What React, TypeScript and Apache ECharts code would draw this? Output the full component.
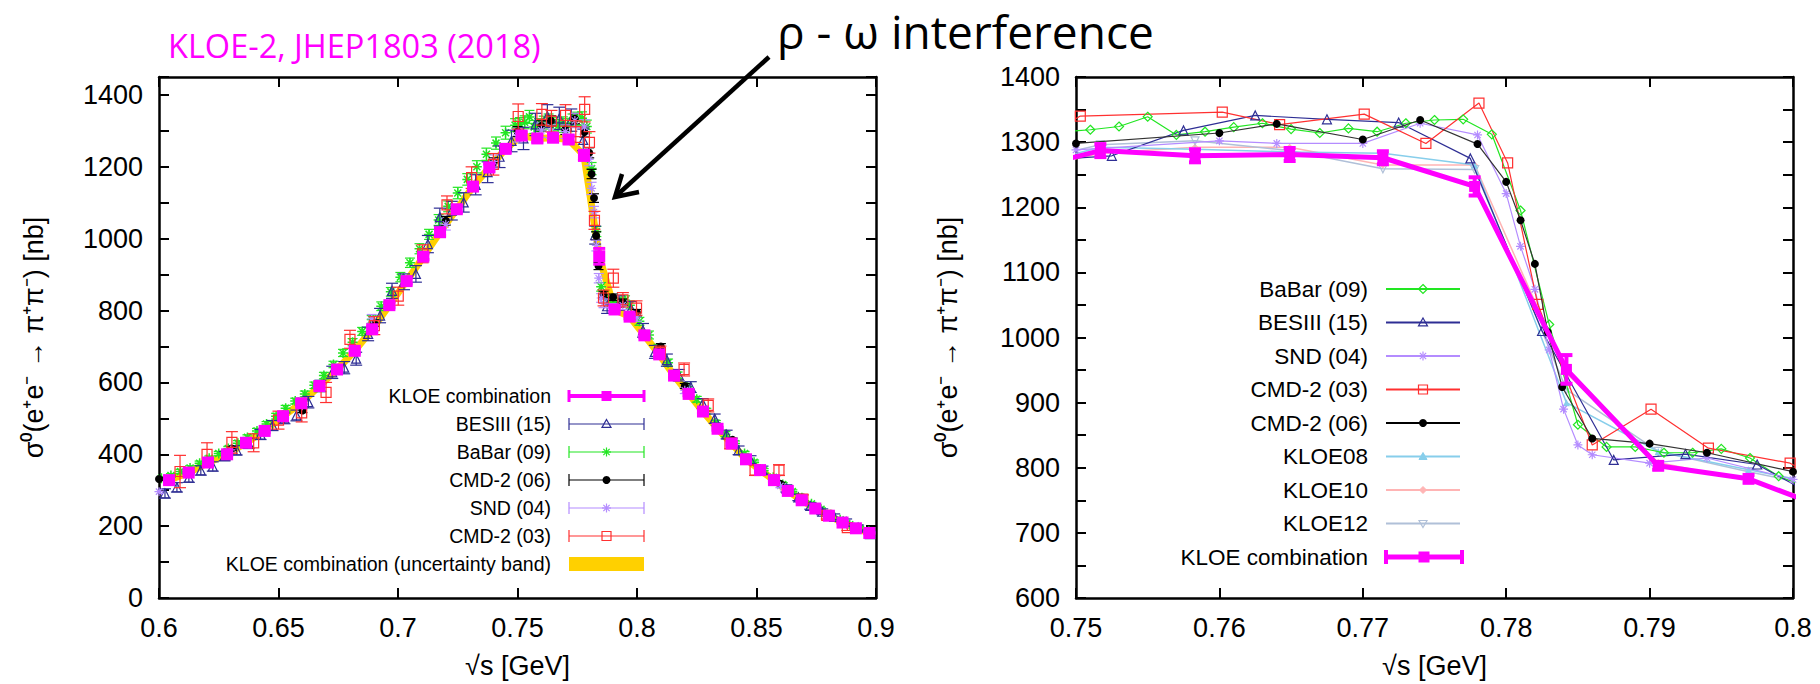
import React, { useEffect, useRef } from "react";
import * as echarts from "echarts";

// ---------------- data ----------------
// KLOE combination (magenta squares, left and right panels)
const KLOE_X = [0.6042, 0.6124, 0.6205, 0.6285, 0.6364, 0.6442, 0.6519, 0.6595, 0.6671, 0.6745, 0.6819, 0.6892, 0.6964, 0.7036, 0.7106, 0.7176, 0.7246, 0.7314, 0.7382, 0.745, 0.7517, 0.7583, 0.7649, 0.7714, 0.7778, 0.7842, 0.7906, 0.7969, 0.8031, 0.8093, 0.8155, 0.8216, 0.8276, 0.8337, 0.8396, 0.8456, 0.8515, 0.8573, 0.8631, 0.8689, 0.8746, 0.8803, 0.886, 0.8916, 0.8972];
const KLOE_Y = [328, 349, 377, 400, 432, 465, 506, 542, 590, 636, 688, 748, 815, 882, 950, 1018, 1082, 1145, 1198, 1250, 1287, 1279, 1281, 1276, 1232, 951, 803, 783, 731, 678, 619, 568, 519, 471, 430, 386, 356, 328, 298, 272, 249, 229, 210, 194, 181];
const KLOE_ERR = [4, 4, 4, 4, 4, 5, 5, 5, 5, 6, 6, 7, 7, 8, 8, 9, 9, 10, 10, 10, 10, 10, 10, 10, 14, 22, 6, 6, 6, 6, 5, 5, 5, 4, 4, 4, 4, 3, 3, 3, 3, 3, 2, 2, 2];

// BaBar (09)
const BABAR_X = [0.601, 0.605, 0.609, 0.613, 0.617, 0.621, 0.625, 0.629, 0.633, 0.637, 0.641, 0.645, 0.649, 0.653, 0.657, 0.661, 0.665, 0.669, 0.673, 0.677, 0.681, 0.685, 0.689, 0.693, 0.697, 0.701, 0.705, 0.709, 0.713, 0.717, 0.721, 0.725, 0.729, 0.733, 0.737, 0.741, 0.745, 0.749,
  0.751, 0.753, 0.755, 0.757, 0.759, 0.761, 0.763, 0.765, 0.767, 0.769, 0.771, 0.773, 0.775, 0.777, 0.779, 0.781, 0.783, 0.785, 0.787, 0.789, 0.791, 0.793, 0.795, 0.797, 0.799,
  0.801, 0.805, 0.809, 0.813, 0.817, 0.821, 0.825, 0.829, 0.833, 0.837, 0.841, 0.845, 0.849, 0.853, 0.857, 0.861, 0.865, 0.869, 0.873, 0.877, 0.881, 0.885, 0.889, 0.893, 0.897];
const BABAR_Y = [333, 341, 352, 362, 375, 389, 402, 416, 431, 447, 465, 484, 506, 528, 548, 568, 592, 619, 650, 682, 712, 742, 775, 812, 852, 893, 933, 972, 1012, 1052, 1090, 1127, 1165, 1200, 1235, 1266, 1295, 1316,
  1319, 1324, 1339, 1311, 1316, 1323, 1329, 1320, 1314, 1321, 1316, 1329, 1334, 1335, 1312, 1195, 1020, 866, 832, 832, 823, 823, 829, 815, 787,
  770, 732, 696, 655, 620, 588, 553, 520, 487, 456, 430, 402, 378, 354, 336, 316, 296, 279, 262, 247, 232, 218, 204, 195, 186];
const BABAR_ERR = [5, 5, 6, 6, 6, 6, 6, 6, 7, 7, 7, 7, 8, 8, 8, 8, 9, 9, 9, 10, 10, 11, 11, 12, 12, 13, 13, 14, 14, 15, 15, 16, 16, 17, 17, 17, 18, 18,
  18, 18, 18, 18, 18, 18, 18, 18, 18, 18, 18, 18, 18, 18, 18, 17, 14, 12, 12, 12, 12, 12, 12, 12, 11,
  11, 11, 10, 10, 9, 9, 8, 8, 7, 7, 7, 6, 6, 6, 5, 5, 5, 5, 4, 4, 4, 4, 4, 4, 3];

// BESIII (15)
const BES_X = [0.6025, 0.6075, 0.6125, 0.6175, 0.6225, 0.6275, 0.6325, 0.6375, 0.6425, 0.6475, 0.6525, 0.6575, 0.6625, 0.6675, 0.6725, 0.6775, 0.6825, 0.6875, 0.6925, 0.6975, 0.7025, 0.7075, 0.7125, 0.7175, 0.7225, 0.7275, 0.7325, 0.7375, 0.7425, 0.7475, 0.7525, 0.7575, 0.7625, 0.7675, 0.7725, 0.7775, 0.7825, 0.7875, 0.7925, 0.7975, 0.8025, 0.8075, 0.8125, 0.8175, 0.8225, 0.8275, 0.8325, 0.8375, 0.8425, 0.8475, 0.8525, 0.8575, 0.8625, 0.8675, 0.8725, 0.8775, 0.8825, 0.8875, 0.8925, 0.8975];
const BES_Y = [291, 308, 335, 355, 366, 395, 411, 430, 455, 480, 500, 508, 545, 590, 628, 641, 666, 735, 786, 855, 880, 902, 985, 1060, 1078, 1101, 1150, 1185, 1228, 1272, 1279, 1318, 1341, 1335, 1330, 1275, 1010, 812, 821, 805, 745, 685, 662, 620, 587, 541, 499, 455, 411, 385, 356, 330, 305, 280, 256, 240, 226, 212, 196, 178];
const BES_ERR = [13, 13, 13, 13, 13, 13, 13, 14, 14, 14, 15, 15, 16, 16, 17, 17, 18, 19, 20, 21, 22, 23, 24, 25, 26, 27, 28, 29, 30, 30, 31, 31, 32, 31, 31, 30, 25, 20, 20, 20, 19, 18, 17, 16, 15, 14, 13, 12, 12, 11, 11, 10, 10, 9, 9, 8, 8, 8, 7, 7];

// CMD-2 (06)
const CMD06_X = [0.6, 0.6304, 0.66, 0.69, 0.72, 0.74, 0.75, 0.76, 0.764, 0.77, 0.774, 0.778, 0.78, 0.781, 0.782, 0.7829, 0.7839, 0.786, 0.79, 0.794, 0.8, 0.81, 0.82, 0.84, 0.86, 0.88];
const CMD06_Y = [331, 416, 522, 765, 1050, 1212, 1298, 1314, 1328, 1304, 1334, 1297, 1239, 1180, 1113, 1008, 924, 845, 837, 823, 794, 700, 590, 440, 318, 232];
const CMD06_ERR = [4, 5, 6, 9, 12, 13, 14, 14, 14, 14, 14, 14, 14, 13, 12, 11, 10, 9, 9, 9, 9, 8, 7, 5, 4, 3];

// SND (04)
const SND_X = [0.6, 0.63, 0.66, 0.689, 0.72, 0.74, 0.75, 0.76, 0.764, 0.77, 0.774, 0.778, 0.78, 0.781, 0.782, 0.783, 0.784, 0.785, 0.786, 0.79, 0.794, 0.8, 0.82, 0.84, 0.86, 0.88];
const SND_Y = [296, 412, 535, 777, 1040, 1215, 1288, 1302, 1298, 1298, 1329, 1311, 1221, 1140, 1074, 981, 890, 835, 820, 807, 815, 782, 578, 430, 312, 228];
const SND_ERR = [5, 6, 8, 12, 16, 18, 19, 20, 19, 19, 20, 20, 18, 17, 16, 15, 13, 12, 12, 12, 12, 12, 9, 6, 5, 4];

// CMD-2 (03)
const CMD03_X = [0.6088, 0.6201, 0.6305, 0.6396, 0.65, 0.6597, 0.6699, 0.6799, 0.6901, 0.7001, 0.7103, 0.7205, 0.7308, 0.7399, 0.7503, 0.7602, 0.7642, 0.7701, 0.7744, 0.7781, 0.7801, 0.7822, 0.786, 0.7901, 0.7941, 0.7998, 0.8098, 0.8197, 0.8298, 0.8389, 0.8494, 0.8594, 0.8694, 0.8794, 0.888];
const CMD03_Y = [352, 400, 433, 432, 495, 515, 572, 720, 758, 840, 958, 1094, 1170, 1207, 1340, 1346, 1327, 1343, 1298, 1360, 1268, 1051, 835, 890, 830, 807, 683, 636, 536, 430, 356, 356, 275, 230, 196];
const CMD03_ERR = [45, 32, 30, 25, 25, 25, 28, 25, 25, 25, 25, 25, 30, 30, 35, 30, 30, 30, 30, 35, 30, 25, 22, 25, 20, 20, 18, 18, 18, 15, 15, 15, 12, 10, 8];

// KLOE08 / KLOE10 / KLOE12 (right panel only)
const KLOE_SUB_X = [0.745, 0.7517, 0.7583, 0.7649, 0.7714, 0.7778, 0.7842, 0.7906, 0.7969, 0.8031];
const KLOE08_Y = [1255, 1292, 1289, 1285, 1283, 1265, 900, 825, 797, 770];
const KLOE10_Y = [1250, 1283, 1292, 1292, 1265, 1265, 945, 808, 780, 740];
const KLOE12_Y = [1262, 1296, 1302, 1287, 1259, 1258, 920, 825, 794, 765];

// axis ranges / labels
const LEFT_X_RANGE = [0.6, 0.9, 0.05];
const LEFT_Y_RANGE = [0, 1450, 100];
const RIGHT_X_RANGE = [0.75, 0.8, 0.01];
const RIGHT_Y_RANGE = [600, 1400, 50];
const X_TITLE = "√s [GeV]";
const Y_TITLE = "σ⁰(e⁺e⁻ → π⁺π⁻) [nb]";
const LEFT_LEGEND = ["KLOE combination", "BESIII (15)", "BaBar (09)", "CMD-2 (06)", "SND (04)", "CMD-2 (03)", "KLOE combination (uncertainty band)"];
const RIGHT_LEGEND = ["BaBar (09)", "BESIII (15)", "SND (04)", "CMD-2 (03)", "CMD-2 (06)", "KLOE08", "KLOE10", "KLOE12", "KLOE combination"];

// ---------------- styles ----------------
const FONT = '"Liberation Sans", Arial, Helvetica, sans-serif';
const TFONT = '"Open Sans", "Noto Sans", sans-serif';
const C_KLOE = "#ff00ff";
const C_BAND = "#ffd000";
const C_BABAR = "#22e622";
const C_BES = "#2e2e94";
const C_CMD06 = "#000000";
const C_SND = "#b48cff";
const C_CMD03 = "#ff3030";
const C_K08 = "#87ceeb";
const C_K10 = "#ffb4b4";
const C_K12 = "#b0c0d8";
const ASTER = "path://M5,0L5,10M0,5L10,5M1.5,1.5L8.5,8.5M1.5,8.5L8.5,1.5";

const pairs = (xs: number[], ys: number[]) => xs.map((x, i) => [x, ys[i]]);
const triples = (xs: number[], ys: number[], es: number[]) => xs.map((x, i) => [x, ys[i], es[i]]);

function xAx(grid: number, r: number[], pos: string, labels: boolean) {
  return {
    type: "value", gridIndex: grid, min: r[0], max: r[1], interval: r[2], position: pos,
    axisLine: { show: true, onZero: false, lineStyle: { color: "#000", width: 2.5 } },
    axisTick: { show: true, inside: true, length: 10, lineStyle: { color: "#000", width: 2 } },
    minorTick: { show: false }, splitLine: { show: false },
    axisLabel: labels ? { show: true, fontSize: 27, color: "#000", fontFamily: FONT, margin: 16 } : { show: false },
    name: labels ? X_TITLE : "", nameLocation: "middle", nameGap: 54,
    nameTextStyle: { fontSize: 27, color: "#000", fontFamily: FONT },
  };
}
function yAx(grid: number, r: number[], pos: string, labels: boolean, every: number, maxLab: number, gap: number) {
  return {
    type: "value", gridIndex: grid, min: r[0], max: r[1], interval: r[2], position: pos,
    axisLine: { show: true, onZero: false, lineStyle: { color: "#000", width: 2.5 } },
    axisTick: { show: true, inside: true, length: 10, lineStyle: { color: "#000", width: 2 } },
    minorTick: { show: false }, splitLine: { show: false },
    axisLabel: labels ? {
      show: true, fontSize: 27, color: "#000", fontFamily: FONT, margin: 16,
      formatter: (v: number) => { const r2 = Math.round(v); return r2 % every === 0 && r2 <= maxLab ? String(r2) : ""; },
    } : { show: false },
    name: labels ? Y_TITLE : "", nameLocation: "middle", nameGap: gap,
    nameTextStyle: { fontSize: 27, color: "#000", fontFamily: FONT },
  };
}

function errSeries(xs: number[], ys: number[], es: number[], color: string, lw: number, cap: number, ai: number, z: number) {
  return {
    type: "custom", xAxisIndex: ai, yAxisIndex: ai, z, clip: true, silent: true,
    data: triples(xs, ys, es), encode: { x: 0, y: 1 },
    renderItem: (params: any, api: any) => {
      const x = api.value(0), y = api.value(1), e = api.value(2);
      const hi = api.coord([x, y + e]);
      const lo = api.coord([x, y - e]);
      const st = { stroke: color, lineWidth: lw };
      return {
        type: "group", children: [
          { type: "line", shape: { x1: hi[0], y1: hi[1], x2: lo[0], y2: lo[1] }, style: st },
          { type: "line", shape: { x1: hi[0] - cap, y1: hi[1], x2: hi[0] + cap, y2: hi[1] }, style: st },
          { type: "line", shape: { x1: lo[0] - cap, y1: lo[1], x2: lo[0] + cap, y2: lo[1] }, style: st },
        ],
      };
    },
  };
}
function scat(xs: number[], ys: number[], symbol: string, size: number, fill: string, stroke: string, bw: number, z: number, rot = 0) {
  return {
    type: "scatter", xAxisIndex: 0, yAxisIndex: 0, z, silent: true, symbol, symbolSize: size, symbolRotate: rot,
    data: pairs(xs, ys), itemStyle: { color: fill, borderColor: stroke, borderWidth: bw, opacity: 1 },
  };
}
function line(xs: number[], ys: number[], color: string, lw: number, symbol: string, size: number, fill: string, bw: number, z: number, rot = 0) {
  return {
    type: "line", xAxisIndex: 2, yAxisIndex: 2, z, silent: true, clip: true, showSymbol: true,
    symbol, symbolSize: size, symbolRotate: rot, data: pairs(xs, ys),
    lineStyle: { color, width: lw }, itemStyle: { color: fill, borderColor: color, borderWidth: bw },
  };
}

// --------- legend glyphs (graphic) ---------
function glyph(kind: string, cx: number, cy: number, s: number, color: string): any {
  const h = s / 2;
  const open = { fill: "none", stroke: color, lineWidth: 1.2 };
  const fill = { fill: color, stroke: color, lineWidth: 1 };
  switch (kind) {
    case "tri": return { type: "polygon", shape: { points: [[cx, cy - h], [cx + h, cy + h * 0.75], [cx - h, cy + h * 0.75]] }, style: open };
    case "triFill": return { type: "polygon", shape: { points: [[cx, cy - h], [cx + h, cy + h * 0.75], [cx - h, cy + h * 0.75]] }, style: fill };
    case "triDown": return { type: "polygon", shape: { points: [[cx, cy + h], [cx + h, cy - h * 0.75], [cx - h, cy - h * 0.75]] }, style: open };
    case "dia": return { type: "polygon", shape: { points: [[cx, cy - h], [cx + h, cy], [cx, cy + h], [cx - h, cy]] }, style: open };
    case "diaFill": return { type: "polygon", shape: { points: [[cx, cy - h], [cx + h, cy], [cx, cy + h], [cx - h, cy]] }, style: fill };
    case "dot": return { type: "circle", shape: { cx, cy, r: h }, style: { fill: color } };
    case "sq": return { type: "rect", shape: { x: cx - h, y: cy - h, width: s, height: s }, style: open };
    case "sqFill": return { type: "rect", shape: { x: cx - h, y: cy - h, width: s, height: s }, style: { fill: color } };
    case "star": {
      const d = h * 0.7;
      const st = { stroke: color, lineWidth: 1.2 };
      return {
        type: "group", children: [
          { type: "line", shape: { x1: cx, y1: cy - h, x2: cx, y2: cy + h }, style: st },
          { type: "line", shape: { x1: cx - h, y1: cy, x2: cx + h, y2: cy }, style: st },
          { type: "line", shape: { x1: cx - d, y1: cy - d, x2: cx + d, y2: cy + d }, style: st },
          { type: "line", shape: { x1: cx - d, y1: cy + d, x2: cx + d, y2: cy - d }, style: st },
        ],
      };
    }
  }
  return { type: "group", children: [] };
}

function legendRow(label: string, tx: number, y: number, fs: number, x1: number, x2: number, color: string, lw: number, caps: number, capLw: number, kind: string, size: number): any[] {
  const els: any[] = [
    { type: "text", x: tx, y, style: { text: label, fill: "#000", fontSize: fs, fontFamily: FONT, align: "right", verticalAlign: "middle" } },
    { type: "line", shape: { x1, y1: y, x2, y2: y }, style: { stroke: color, lineWidth: lw } },
  ];
  if (caps > 0) {
    els.push({ type: "line", shape: { x1, y1: y - caps, x2: x1, y2: y + caps }, style: { stroke: color, lineWidth: capLw } });
    els.push({ type: "line", shape: { x1: x2, y1: y - caps, x2, y2: y + caps }, style: { stroke: color, lineWidth: capLw } });
  }
  els.push(glyph(kind, (x1 + x2) / 2, y, size, color));
  return els;
}

function buildGraphic(): any[] {
  const g: any[] = [];
  g.push({ type: "text", x: 168, y: 45, style: { text: "KLOE-2, JHEP1803 (2018)", fill: "#ff00ff", fontSize: 32.5, fontFamily: TFONT, align: "left", verticalAlign: "middle" } });
  g.push({ type: "text", x: 777, y: 31, style: { text: "ρ - ω interference", fill: "#000", fontSize: 46, fontFamily: TFONT, align: "left", verticalAlign: "middle" } });
  g.push({ type: "line", shape: { x1: 769, y1: 57, x2: 616, y2: 196 }, style: { stroke: "#000", lineWidth: 4.5 } });
  g.push({ type: "polyline", shape: { points: [[622, 174], [615, 197], [639, 192]] }, style: { stroke: "#000", lineWidth: 4.5, fill: "none" } });

  // left legend
  const LL = [
    { c: C_KLOE, k: "sqFill", s: 10, lw: 4, cl: 3 },
    { c: C_BES, k: "tri", s: 9, lw: 1.2, cl: 1.2 },
    { c: C_BABAR, k: "star", s: 9, lw: 1.2, cl: 1.2 },
    { c: C_CMD06, k: "dot", s: 8, lw: 1.2, cl: 1.2 },
    { c: C_SND, k: "star", s: 9, lw: 1.2, cl: 1.2 },
    { c: C_CMD03, k: "sq", s: 9, lw: 1.2, cl: 1.2 },
  ];
  LL.forEach((r, i) => {
    g.push(...legendRow(LEFT_LEGEND[i], 551, 396 + 28 * i, 19.5, 569, 644, r.c, r.lw, 6, r.cl, r.k, r.s));
  });
  g.push({ type: "text", x: 551, y: 564, style: { text: LEFT_LEGEND[6], fill: "#000", fontSize: 19.5, fontFamily: FONT, align: "right", verticalAlign: "middle" } });
  g.push({ type: "rect", shape: { x: 569, y: 557, width: 75, height: 14 }, style: { fill: C_BAND } });

  // right legend
  const RL = [
    { c: C_BABAR, k: "dia", s: 9 },
    { c: C_BES, k: "tri", s: 9 },
    { c: C_SND, k: "star", s: 9 },
    { c: C_CMD03, k: "sq", s: 9 },
    { c: C_CMD06, k: "dot", s: 8 },
    { c: C_K08, k: "triFill", s: 8 },
    { c: C_K10, k: "diaFill", s: 7 },
    { c: C_K12, k: "triDown", s: 8 },
  ];
  RL.forEach((r, i) => {
    g.push(...legendRow(RIGHT_LEGEND[i], 1368, 289 + 33.5 * i, 22.5, 1386, 1460, r.c, 1.8, 0, 0, r.k, r.s));
  });
  g.push(...legendRow(RIGHT_LEGEND[8], 1368, 557, 22.5, 1386, 1462, C_KLOE, 5, 7, 4, "sqFill", 11));
  return g;
}

function buildOption(): any {
  const series: any[] = [
    // ---- left panel ----
    { type: "line", xAxisIndex: 0, yAxisIndex: 0, z: 1, silent: true, clip: true, showSymbol: false, symbol: "none", data: pairs(KLOE_X, KLOE_Y), lineStyle: { color: C_BAND, width: 7 } },
    errSeries(BABAR_X, BABAR_Y, BABAR_ERR, C_BABAR, 1.2, 5, 0, 2),
    scat(BABAR_X, BABAR_Y, ASTER, 10, "transparent", C_BABAR, 1.5, 3),
    errSeries(BES_X, BES_Y, BES_ERR, C_BES, 1.2, 6, 0, 4),
    scat(BES_X, BES_Y, "triangle", 9, "transparent", C_BES, 1.2, 5),
    errSeries(CMD06_X, CMD06_Y, CMD06_ERR, C_CMD06, 1.2, 5, 0, 6),
    scat(CMD06_X, CMD06_Y, "circle", 8, C_CMD06, C_CMD06, 0, 7),
    errSeries(SND_X, SND_Y, SND_ERR, C_SND, 1.2, 5, 0, 6),
    scat(SND_X, SND_Y, ASTER, 9, "transparent", C_SND, 1.2, 7),
    errSeries(CMD03_X, CMD03_Y, CMD03_ERR, C_CMD03, 1.2, 6, 0, 8),
    scat(CMD03_X, CMD03_Y, "rect", 10, "transparent", C_CMD03, 1.2, 9),
    errSeries(KLOE_X, KLOE_Y, KLOE_ERR, C_KLOE, 3, 6, 0, 10),
    scat(KLOE_X, KLOE_Y, "rect", 12, C_KLOE, C_KLOE, 0, 11),
    // ---- right panel ----
    line(KLOE_SUB_X, KLOE10_Y, C_K10, 1.5, "diamond", 7, C_K10, 0, 2),
    line(KLOE_SUB_X, KLOE12_Y, C_K12, 1.5, "triangle", 8, "transparent", 1.2, 2, 180),
    line(KLOE_SUB_X, KLOE08_Y, C_K08, 1.5, "triangle", 7, C_K08, 0, 2),
    line(BABAR_X, BABAR_Y, C_BABAR, 1.2, "diamond", 9, "transparent", 1.2, 3),
    line(BES_X, BES_Y, C_BES, 1.2, "triangle", 9, "transparent", 1.2, 3),
    line(SND_X, SND_Y, C_SND, 1.2, ASTER, 9, "transparent", 1.2, 3),
    line(CMD03_X, CMD03_Y, C_CMD03, 1.2, "rect", 10, "transparent", 1.2, 3),
    line(CMD06_X, CMD06_Y, "#333333", 1.2, "circle", 8, "#000", 0, 4),
    line(KLOE_X, KLOE_Y, C_KLOE, 5, "rect", 11, C_KLOE, 0, 10),
    errSeries(KLOE_X, KLOE_Y, KLOE_ERR, C_KLOE, 4, 6, 2, 11),
  ];
  return {
    animation: false,
    backgroundColor: "#ffffff",
    grid: [
      { left: 159, top: 77, width: 717, height: 521, outerBoundsMode: "none" },
      { left: 1076, top: 77, width: 717, height: 521, outerBoundsMode: "none" },
    ],
    xAxis: [
      xAx(0, LEFT_X_RANGE, "bottom", true), xAx(0, LEFT_X_RANGE, "top", false),
      xAx(1, RIGHT_X_RANGE, "bottom", true), xAx(1, RIGHT_X_RANGE, "top", false),
    ],
    yAxis: [
      yAx(0, LEFT_Y_RANGE, "left", true, 200, 1400, 112), yAx(0, LEFT_Y_RANGE, "right", false, 200, 1400, 0),
      yAx(1, RIGHT_Y_RANGE, "left", true, 100, 1400, 115), yAx(1, RIGHT_Y_RANGE, "right", false, 100, 1400, 0),
    ],
    series,
    graphic: buildGraphic(),
  };
}

export default function App() {
  const ref = useRef<HTMLDivElement>(null);
  useEffect(() => {
    if (!ref.current) return;
    const chart = echarts.init(ref.current, null, { renderer: "svg" });
    chart.setOption(buildOption());
    return () => chart.dispose();
  }, []);
  return <div ref={ref} style={{ position: "absolute", left: 0, top: 0, width: 1820, height: 684, background: "#fff" }} />;
}
